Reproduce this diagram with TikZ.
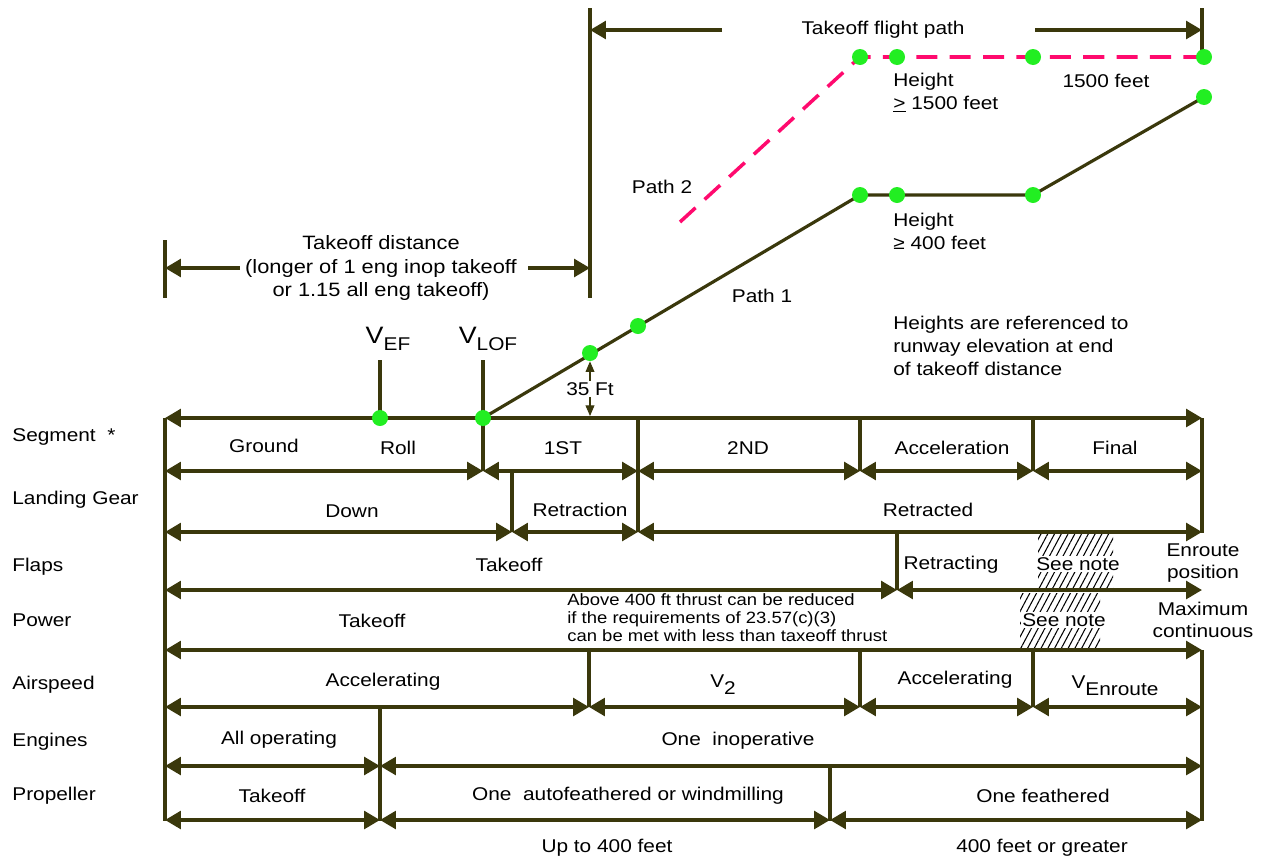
\documentclass[tikz,border=0pt]{standalone}
\usepackage{fontspec}
\setmainfont[FakeStretch=1.13]{Liberation Sans}
\usepackage{xcolor}
\definecolor{cLine}{HTML}{3A380C}
\definecolor{cDot}{HTML}{22EE22}
\definecolor{cPath}{HTML}{FF0A6E}
\usepackage{tikz}
\usetikzlibrary{arrows.meta,patterns.meta,backgrounds}

\begin{document}
\begin{tikzpicture}[x=0.02cm,y=-0.02cm,
  font=\fontsize{10.5}{12.5}\selectfont,
  txt/.style={inner sep=0pt,align=center},
  rowlab/.style={txt,anchor=west},
  note/.style={txt,fill=white,inner sep=1pt},
  dim/.style={{Triangle[length=9pt,width=10pt]}-{Triangle[length=9pt,width=10pt]},cLine,line width=2pt},
  rdim/.style={-{Triangle[length=9pt,width=10pt]},cLine,line width=2pt},
  bar/.style={cLine,line width=2pt},
  pathone/.style={cLine,line width=1.8pt},
  pathtwo/.style={cPath,line width=2pt,dash pattern=on 12pt off 7pt},
  dot/.style={circle,fill=cDot,inner sep=0pt,minimum size=0.32cm},
  hatch/.style={pattern={Lines[angle=62,distance=3.4pt,line width=0.6pt]}}]
\useasboundingbox (0,0) rectangle (1267,863);

% hatched note areas
\fill[hatch] (1038,533) rectangle (1113,588);
\fill[hatch] (1020,593) rectangle (1100,648);

% dimension lines of the table
\foreach \a/\b/\y in {165/1202/418,
  165/483/471, 483/638/471, 638/860/471, 860/1033/471, 1033/1202/471,
  165/512/532, 512/638/532, 638/1202/532,
  165/897/590, 897/1202/590,
  165/1202/650,
  165/589/707, 589/860/707, 860/1033/707, 1033/1202/707,
  165/380/766, 380/1202/766,
  165/380/820, 380/830/820, 830/1202/820}
  \draw[dim] (\a,\y) -- (\b,\y);
\foreach \x/\a/\b in {165/418/821, 1202/418/533, 1202/650/821, 483/360/471,
  380/360/418, 512/471/532, 638/418/532, 860/418/471, 1033/418/471,
  897/532/590, 589/650/707, 860/650/707, 1033/650/707, 380/707/821,
  830/766/821, 590/8/298, 1202/8/57, 165/240/298}
  \draw[bar] (\x,\a) -- (\x,\b);

% distances on top
\draw[rdim] (722,30) -- (590,30);
\draw[rdim] (1035,30) -- (1202,30);
\draw[rdim] (240,268) -- (165,268);
\draw[rdim] (528,268) -- (590,268);

% flight path points
\node[dot] (ef) at (380,418) {};
\node[dot] (lof) at (483,418) {};
\node[dot] (h35) at (590,353) {};
\node[dot] (pa) at (638,326) {};
\node[dot] (pb) at (860,195) {};
\node[dot] (pc) at (897,195) {};
\node[dot] (pd) at (1033,195) {};
\node[dot] (pe) at (1204,97) {};
\node[dot] (qb) at (860,57) {};
\node[dot] (qc) at (897,57) {};
\node[dot] (qd) at (1033,57) {};
\node[dot] (qe) at (1204,57) {};
\coordinate (qa) at (680,222);
\begin{scope}[on background layer]
\draw[pathone] (lof.center) -- (pb.center) -- (pd.center) -- (pe.center);
\draw[pathtwo] (qa) -- (qb.center) -- (qe.center);
\end{scope}
\draw[{Triangle[length=6pt,width=5pt]}-{Triangle[length=6pt,width=5pt]},cLine,line width=0.6pt]
  (h35.south) -- (590,416);
\node[note] (ft35) at (590,389) {35 Ft};

% row names
\node[rowlab] (lseg) at (12,437) {Segment~~*};
\node[rowlab] (lgear) at (12,500) {Landing Gear};
\node[rowlab] (lflap) at (12,567) {Flaps};
\node[rowlab] (lpow) at (12,620) {Power};
\node[rowlab] (lspd) at (12,685) {Airspeed};
\node[rowlab] (leng) at (12,742) {Engines};
\node[rowlab] (lprop) at (12,796) {Propeller};

% segment row
\node[txt] (sground) at (264,446) {Ground};
\node[txt] (sroll) at (398,448) {Roll};
\node[txt] (sfirst) at (563,448) {1ST};
\node[txt] (ssecond) at (748,448) {2ND};
\node[txt] (sacc) at (952,448) {Acceleration};
\node[txt] (sfinal) at (1115,448) {Final};
% landing gear row
\node[txt] (gdown) at (352,511) {Down};
\node[txt] (gretr) at (580,510) {Retraction};
\node[txt] (gdone) at (928,510) {Retracted};
% flaps row
\node[txt] (fto) at (509,565) {Takeoff};
\node[txt] (fretr) at (951,565) {Retracting};
\node[note] (fnote) at (1078,564) {See note};
\node[txt] (fenr) at (1203,563) {Enroute\\position};
% power row
\node[txt] (pto) at (372,621) {Takeoff};
\node[txt,anchor=west,align=left,font=\fontsize{9.3}{10.2}\selectfont] (pred) at (567,618)
  {Above 400 ft thrust can be reduced\\if the requirements of 23.57(c)(3)\\can be met with less than taxeoff thrust};
\node[note] (pnote) at (1064,620) {See note};
\node[txt] (pmax) at (1203,620) {Maximum\\continuous};
% airspeed row
\node[txt] (aacc) at (383,682) {Accelerating};
\node[txt] (av2) at (723,685) {V\raisebox{-4pt}{2}};
\node[txt] (aacc2) at (955,680) {Accelerating};
\node[txt] (aenr) at (1115,686) {V\raisebox{-4pt}{Enroute}};
% engines row
\node[txt] (eall) at (279,740) {All operating};
\node[txt] (eone) at (738,741) {One~~inoperative};
% propeller row
\node[txt] (rto) at (272,796) {Takeoff};
\node[txt] (rwind) at (628,796) {One~~autofeathered or windmilling};
\node[txt] (rfeat) at (1043,796) {One feathered};
\node[txt] (hlow) at (607,848) {Up to 400 feet};
\node[txt] (hhigh) at (1042,848) {400 feet or greater};

% upper labels
\node[txt] (tfp) at (883,30) {Takeoff flight path};
\node[txt,font=\fontsize{11}{13.6}\selectfont] (tod) at (381,268)
  {Takeoff distance\\(longer of 1 eng inop takeoff\\or 1.15 all eng takeoff)};
\node[txt] (vef) at (388,339) {{\fontsize{13.5}{14}\selectfont V}\raisebox{-4pt}{EF}};
\node[txt] (vlof) at (488,339) {{\fontsize{13.5}{14}\selectfont V}\raisebox{-4pt}{LOF}};
\node[txt] (ptwo) at (662,187) {Path 2};
\node[txt] (pone) at (762,296) {Path 1};
\node[txt,anchor=west,align=left,font=\fontsize{10.5}{13}\selectfont] (hhi) at (893,93)
  {Height\\\underline{>} 1500 feet};
\node[txt] (h1500) at (1106,81) {1500 feet};
\node[txt,anchor=west,align=left,font=\fontsize{10.5}{13}\selectfont] (hlo) at (893,231)
  {Height\\≥ 400 feet};
\node[txt,anchor=west,align=left,font=\fontsize{10.5}{13}\selectfont] (href) at (893,346)
  {Heights are referenced to\\runway elevation at end\\of takeoff distance};
\end{tikzpicture}
\end{document}
